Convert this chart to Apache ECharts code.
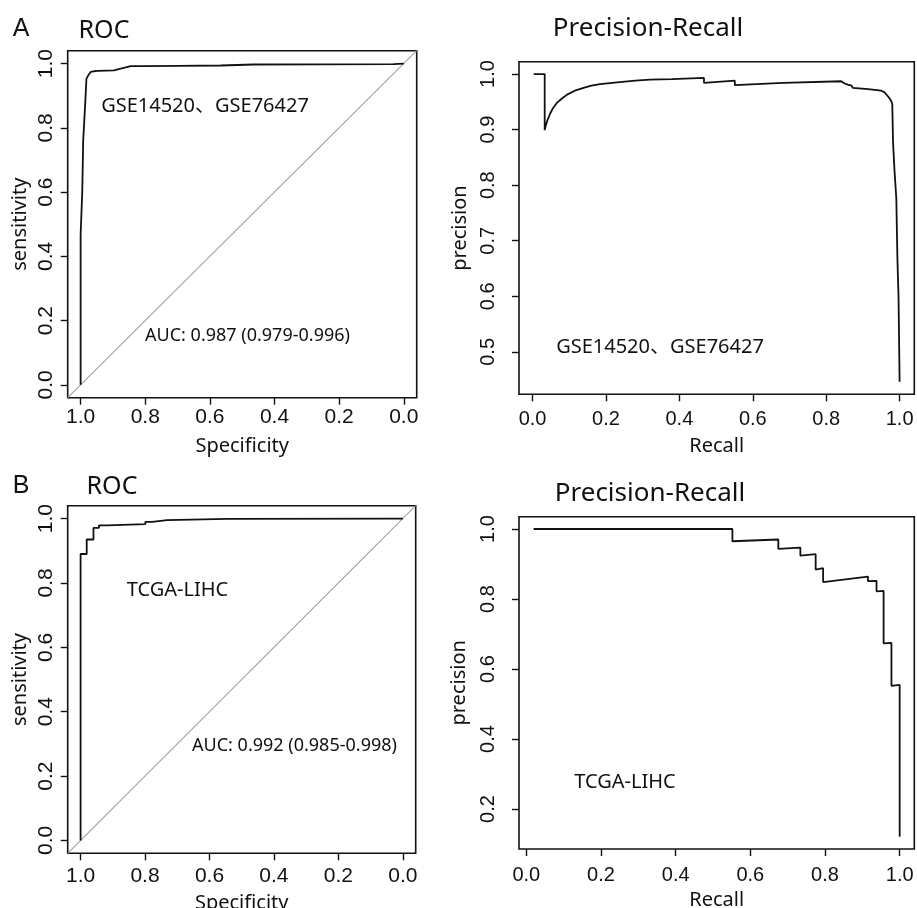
<!DOCTYPE html>
<html>
<head>
<meta charset="utf-8">
<script src="https://cdn.jsdelivr.net/npm/echarts@6/dist/echarts.min.js"></script>
<style>
html,body{margin:0;padding:0;background:#fff;}
#c{width:917px;height:908px;}
</style>
</head>
<body>
<div id="c"></div>
<script>
// ---------------- data ----------------
// ROC A: [specificity, sensitivity]
const rocA = [[1.000,0.000],[1.000,0.467],[0.995,0.467],[0.995,0.600],[0.992,0.600],[0.992,0.762],[0.988,0.762],[0.988,0.835],[0.985,0.835],[0.985,0.891],[0.982,0.891],[0.982,0.953],[0.978,0.960],[0.974,0.967],[0.969,0.974],[0.959,0.976],[0.948,0.977],[0.897,0.979],[0.876,0.984],[0.845,0.992],[0.804,0.992],[0.700,0.993],[0.567,0.994],[0.464,0.997],[0.031,0.998],[0.031,1.000],[0.000,1.000]];
// PR A: [recall, precision]
const prA = [[0.003,1.000],[0.033,1.000],[0.033,0.899],[0.035,0.905],[0.040,0.916],[0.048,0.929],[0.056,0.939],[0.066,0.948],[0.080,0.956],[0.094,0.963],[0.115,0.970],[0.139,0.975],[0.160,0.979],[0.184,0.982],[0.230,0.985],[0.280,0.988],[0.320,0.990],[0.380,0.991],[0.467,0.993],[0.467,0.984],[0.551,0.988],[0.551,0.980],[0.683,0.984],[0.841,0.987],[0.845,0.984],[0.850,0.983],[0.855,0.981],[0.859,0.981],[0.864,0.979],[0.869,0.979],[0.873,0.975],[0.878,0.973],[0.914,0.973],[0.918,0.970],[0.950,0.970],[0.955,0.969],[0.959,0.967],[0.964,0.964],[0.968,0.960],[0.972,0.957],[0.975,0.954],[0.978,0.950],[0.980,0.946],[0.982,0.945],[0.982,0.878],[0.986,0.878],[0.986,0.827],[0.991,0.827],[0.991,0.776],[0.994,0.776],[0.994,0.667],[0.997,0.667],[0.997,0.600],[1.000,0.600],[1.000,0.446]];
// ROC B: [specificity, sensitivity]
const rocB = [[1.000,0.000],[1.000,0.890],[0.981,0.890],[0.981,0.935],[0.960,0.935],[0.960,0.971],[0.943,0.971],[0.943,0.979],[0.917,0.979],[0.917,0.983],[0.799,0.983],[0.799,0.990],[0.778,0.990],[0.778,0.995],[0.732,0.995],[0.732,0.999],[0.545,0.999],[0.545,1.000],[0.000,1.000]];
// PR B: [recall, precision]
const prB = [[0.0196,1.000],[0.552,1.000],[0.552,0.965],[0.675,0.970],[0.675,0.943],[0.734,0.947],[0.734,0.924],[0.775,0.928],[0.775,0.884],[0.795,0.888],[0.795,0.848],[0.915,0.864],[0.915,0.851],[0.938,0.852],[0.938,0.822],[0.957,0.823],[0.957,0.673],[0.978,0.675],[0.978,0.552],[1.000,0.555],[1.000,0.121]];

const ticks01 = [0, 0.2, 0.4, 0.6, 0.8, 1.0];
const ticksPrA = [0.5, 0.6, 0.7, 0.8, 0.9, 1.0];
const ticksPrB = [0.2, 0.4, 0.6, 0.8, 1.0];

const datasetLabel = 'GSE14520\u3001GSE76427';
const tcgaLabel = 'TCGA-LIHC';
const aucA = 'AUC: 0.987 (0.979-0.996)';
const aucB = 'AUC: 0.992 (0.985-0.998)';

// ---------------- styles ----------------
const FT = '"Noto Sans", "Noto Sans CJK SC", sans-serif';
const FN = '"Liberation Sans", Arial, sans-serif';
const INK = '#111';

function xAxis(g, min, max, inverse, ticks, name, margin, nameGap, fs) {
  return {
    type: 'value', gridIndex: g, min: min, max: max, inverse: inverse, position: 'bottom',
    axisLine: {show: false, onZero: false}, splitLine: {show: false},
    axisTick: {show: true, inside: false, length: 7, lineStyle: {color: INK, width: 1.4}, customValues: ticks},
    axisLabel: {show: true, customValues: ticks, margin: margin, fontSize: fs, fontFamily: FN, color: INK,
      formatter: v => Number(v).toFixed(1)},
    name: name, nameLocation: 'middle', nameGap: nameGap,
    nameTextStyle: {fontFamily: FT, fontSize: 20, color: INK}
  };
}
function yAxis(g, min, max, ticks, name, margin, nameGap, fs) {
  return {
    type: 'value', gridIndex: g, min: min, max: max, position: 'left',
    axisLine: {show: false, onZero: false}, splitLine: {show: false},
    axisTick: {show: true, inside: false, length: 7, lineStyle: {color: INK, width: 1.4}, customValues: ticks},
    axisLabel: {show: true, rotate: 90, customValues: ticks, margin: margin, fontSize: fs, fontFamily: FN, color: INK,
      formatter: v => Number(v).toFixed(1)},
    name: name, nameLocation: 'middle', nameGap: nameGap,
    nameTextStyle: {fontFamily: FT, fontSize: 20, color: INK}
  };
}
function curve(data, g) {
  return {type: 'line', xAxisIndex: g, yAxisIndex: g, data: data, showSymbol: false, symbol: 'none',
    lineStyle: {color: INK, width: 1.8}, animation: false, silent: true};
}
function diag(g, lo, hi) {
  return {type: 'line', xAxisIndex: g, yAxisIndex: g, data: [[hi, 1 - hi], [lo, 1 - lo]], showSymbol: false, symbol: 'none',
    lineStyle: {color: '#a0a0a0', width: 1.1}, animation: false, silent: true, clip: true, z: 1};
}
function txt(x, y, text, size, font, rot) {
  return {type: 'text', x: x, y: y, rotation: rot || 0, silent: true,
    style: {x: 0, y: 0, text: text, font: size + 'px ' + (font || FT), fill: INK, textAlign: 'center', textVerticalAlign: 'middle'}};
}

const gridBase = {show: true, borderColor: INK, borderWidth: 1.6, backgroundColor: 'transparent', containLabel: false, outerBoundsMode: 'none'};

const option = {
  animation: false,
  backgroundColor: '#fff',
  grid: [
    Object.assign({left: 67.7, top: 50.7, width: 349, height: 347}, gridBase),
    Object.assign({left: 519, top: 61.7, width: 395.3, height: 332.6}, gridBase),
    Object.assign({left: 67.7, top: 505.7, width: 348, height: 347.6}, gridBase),
    Object.assign({left: 519, top: 516.7, width: 395.3, height: 332.3}, gridBase)
  ],
  xAxis: [
    xAxis(0, -0.04, 1.04, true, ticks01, 'Specificity', 9, 39, 21),
    xAxis(1, -0.037, 1.04, false, ticks01, 'Recall', 15, 42, 20),
    xAxis(2, -0.04, 1.04, true, ticks01, 'Specificity', 12, 40, 21),
    xAxis(3, -0.0196, 1.0392, false, ticks01, 'Recall', 16, 41, 20)
  ],
  yAxis: [
    yAxis(0, -0.04, 1.04, ticks01, 'sensitivity', 11, 37, 21),
    yAxis(1, 0.4236, 1.0222, ticksPrA, 'precision', 21, 49, 20),
    yAxis(2, -0.04, 1.04, ticks01, 'sensitivity', 11, 37, 21),
    yAxis(3, 0.0858, 1.0352, ticksPrB, 'precision', 21, 50, 20)
  ],
  series: [
    diag(0, -0.04, 1.04), curve(rocA, 0),
    curve(prA, 1),
    diag(2, -0.04, 1.04), curve(rocB, 2),
    curve(prB, 3)
  ],
  graphic: [
    txt(21, 29, 'A', 25, '"Liberation Sans", Arial, sans-serif'),
    txt(104, 31, 'ROC', 25),
    txt(648, 29, 'Precision-Recall', 26),
    txt(205, 106, datasetLabel, 20),
    txt(247.5, 336, aucA, 18),
    txt(660, 347, datasetLabel, 20),
    txt(21, 486, 'B', 25, '"Liberation Sans", Arial, sans-serif'),
    txt(112, 487, 'ROC', 25),
    txt(650, 494, 'Precision-Recall', 26),
    txt(177.5, 590, tcgaLabel, 20),
    txt(294.5, 746, aucB, 18),
    txt(625, 782, tcgaLabel, 20)
  ]
};

const chart = echarts.init(document.getElementById('c'), null, {renderer: 'canvas'});
chart.setOption(option);
</script>
</body>
</html>
